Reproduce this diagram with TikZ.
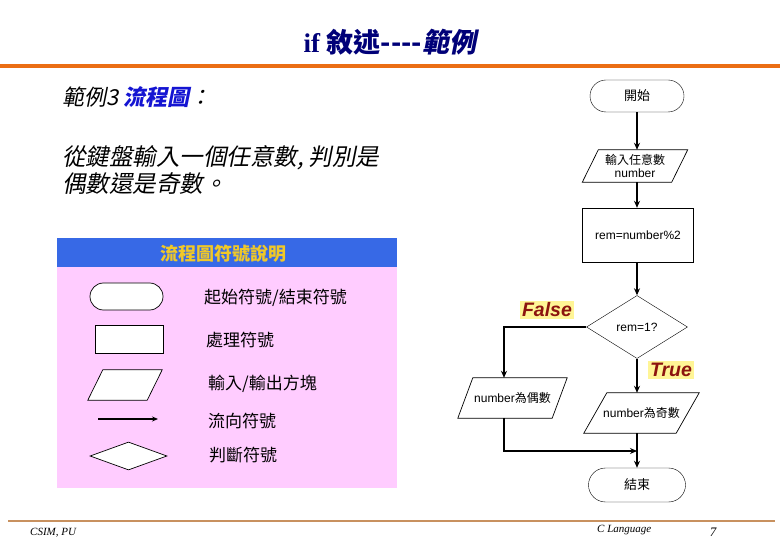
\documentclass[tikz,border=0pt]{standalone}
\usepackage{fontspec}
\setmainfont{Liberation Serif}
\setsansfont{Liberation Sans}
\newfontfamily\cjk{Noto Sans CJK TC}
\newfontfamily\cjksl[FakeSlant=0.2]{Noto Sans CJK TC}
\usetikzlibrary{shapes.geometric,arrows.meta}
\definecolor{navy}{RGB}{0,0,120}
\definecolor{orangeL}{RGB}{235,110,20}
\definecolor{footL}{RGB}{200,145,95}
\definecolor{hdrblue}{RGB}{55,105,230}
\definecolor{pinkbg}{RGB}{255,204,255}
\definecolor{goldT}{RGB}{240,200,40}
\definecolor{lblyellow}{RGB}{255,245,150}
\definecolor{darkred}{RGB}{140,20,15}
\definecolor{blueT}{RGB}{20,20,210}
\tikzset{
  fc/.style={font=\cjk\fontsize{12}{14}\selectfont, align=center, inner sep=0pt},
  term/.style={fc, draw, rectangle, rounded corners=15pt},
  proc/.style={fc, draw, rectangle},
  iobox/.style={fc, rectangle},
  decis/.style={fc, draw, diamond, inner sep=0pt},
  flow/.style={line width=1.6pt, -{Stealth[length=7pt,width=6pt]}},
  plain/.style={line width=1.6pt},
  lbl/.style={fill=lblyellow, inner sep=2pt, font=\sffamily\bfseries\itshape\fontsize{19.5}{22}\selectfont, text=darkred},
  legtext/.style={anchor=west, font=\cjk\fontsize{17}{20}\selectfont, inner sep=0pt},
  legshape/.style={draw, fill=white, line width=0.7pt, inner sep=0pt},
}
\newcommand{\paradraw}[2]{%
  \draw[line width=0.7pt, fill=white] ([xshift=#2pt]#1.north west) -- (#1.north east) -- ([xshift=-#2pt]#1.south east) -- (#1.south west) -- cycle;}
\begin{document}
\begin{tikzpicture}[x=1pt,y=-1pt]
\useasboundingbox (0,0) rectangle (780,540);
% title
\node (title) at (390,42) [text=navy, font=\bfseries\fontsize{27}{30}\selectfont, inner sep=0pt]
  {if {\cjk\bfseries 敘述-{}-{}-{}-}{\cjksl\bfseries 範例}};
\draw[orangeL, line width=4pt] (0,66) -- (780,66);
% left text
\node (ex) at (62,97) [anchor=west, inner sep=0pt, font=\cjksl\fontsize{22}{26}\selectfont]
  {範例3 {\bfseries\color{blueT}流程圖}：};
\node (desc) at (62,170) [anchor=west, inner sep=0pt, align=left, font=\cjksl\fontsize{23.5}{27}\selectfont]
  {從鍵盤輸入一個任意數, 判別是\\偶數還是奇數。};
% legend panel
\fill[hdrblue] (57,238) rectangle (397,267);
\fill[pinkbg] (57,267) rectangle (397,488);
\node (lh) at (223,254) [inner sep=0pt, text=goldT, font=\cjk\bfseries\fontsize{18}{20}\selectfont] {流程圖符號說明};
\node (l1) at (126.5,296.5) [legshape, rectangle, rounded corners=13.5pt, minimum width=73pt, minimum height=27pt] {};
\node (t1) at (204,298) [legtext] {起始符號/結束符號};
\node (l2) at (129,339) [legshape, rectangle, minimum width=68pt, minimum height=28pt] {};
\node (t2) at (206,340) [legtext] {處理符號};
\node (l3) at (125,385) [rectangle, inner sep=0pt, minimum width=74pt, minimum height=30pt] {};
\paradraw{l3}{15}
\node (t3) at (208,384) [legtext] {輸入/輸出方塊};
\coordinate (a1) at (98,419);
\coordinate (a2) at (158,419);
\draw[line width=1.4pt, -{Stealth[length=6pt,width=5pt]}] (a1) -- (a2);
\node (t4) at (208,421) [legtext] {流向符號};
\node (l5) at (128.5,456) [legshape, diamond, minimum width=77pt, minimum height=28pt] {};
\node (t5) at (209,455) [legtext] {判斷符號};
% flowchart
\node (start) at (637,96) [term, minimum width=94pt, minimum height=32pt, rounded corners=16pt, font=\cjk\fontsize{13}{15}\selectfont] {開始};
\node (inp) at (635,166) [iobox, minimum width=105pt, minimum height=32pt] {};
\paradraw{inp}{16}
\node at (inp) [fc] {輸入任意數\\[-1pt]{\sffamily number}};
\node (proc) at (638,235) [proc, minimum width=111pt, minimum height=54pt, font=\sffamily\fontsize{12}{14}\selectfont] {rem=number\%2};
\node (dec) at (637,327) [decis, minimum width=101pt, minimum height=63pt, font=\sffamily\fontsize{12}{14}\selectfont] {rem=1?};
\node (even) at (512.5,398) [iobox, minimum width=109pt, minimum height=40pt] {};
\paradraw{even}{15}
\node at (even) [fc] {{\sffamily number}為偶數};
\node (odd) at (641.5,413) [iobox, minimum width=115pt, minimum height=40pt] {};
\paradraw{odd}{23}
\node at (odd) [fc] {{\sffamily number}為奇數};
\node (stop) at (637,485) [term, minimum width=97pt, minimum height=34pt, rounded corners=17pt, font=\cjk\fontsize{13}{15}\selectfont] {結束};
\coordinate (m) at (637,451);
\draw[flow] (start.south) -- (start.south |- inp.north);
\draw[flow] (start.south |- inp.south) -- (start.south |- proc.north);
\draw[flow] (dec.north |- proc.south) -- (dec.north);
\draw[flow] (dec.west) -| ([xshift=-8.5pt]even.north);
\draw[flow] (dec.south) -- (dec.south |- odd.north);
\draw[flow] ([xshift=-8.5pt]even.south) |- (m);
\draw[flow] (dec.south |- odd.south) -- (stop.north);
\node (F) at (547,310) [lbl] {False};
\node (T) at (671,370) [lbl] {True};
% footer
\draw[footL, line width=2pt] (8,521) -- (775,521);
\node (f1) at (30,533) [anchor=west, inner sep=0pt, font=\itshape\fontsize{11}{12}\selectfont] {CSIM, PU};
\node (f2) at (597,530) [anchor=west, inner sep=0pt, font=\itshape\fontsize{11}{12}\selectfont] {C Language};
\node (f3) at (713,532) [inner sep=0pt, font=\itshape\fontsize{13}{14}\selectfont] {7};
\end{tikzpicture}
\end{document}
